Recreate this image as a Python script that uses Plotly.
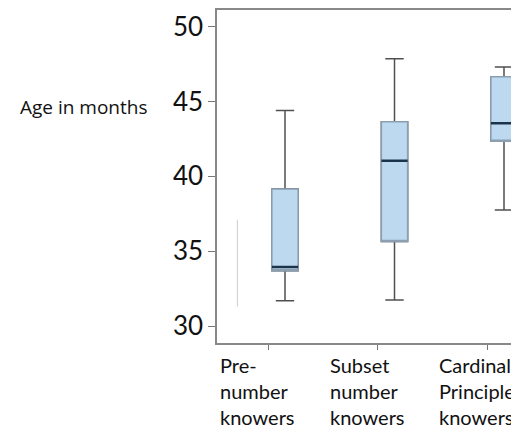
import plotly.graph_objects as go

categories = ["Pre-<br>number<br>knowers", "Subset<br>number<br>knowers", "Cardinal<br>Principle<br>knowers"]
lower_whisker = [31.7, 31.75, 37.75]
q1 = [33.7, 35.65, 42.35]
median = [33.95, 41.05, 43.55]
q3 = [39.15, 43.65, 46.65]
upper_whisker = [44.4, 47.85, 47.3]
y_ticks = [30, 35, 40, 45, 50]
# faint residual line in first group
ghost_low = [31.3]
ghost_high = [37.1]

BOX_OFFSET = 0.155
GHOST_OFFSET = -0.28
BOX_W = 0.24
FONT = "Lato"

idx = list(range(len(categories)))
bx = [i + BOX_OFFSET for i in idx]

fig = go.Figure()
# whiskers
fig.add_trace(go.Box(
    x=bx, q1=q1, median=median, q3=q3,
    lowerfence=lower_whisker, upperfence=upper_whisker,
    width=BOX_W, whiskerwidth=0.7,
    line=dict(color="#505050", width=1.5),
    fillcolor="#bdd9f0", boxpoints=False, hoverinfo="skip", showlegend=False,
))
# box body
fig.add_trace(go.Box(
    x=bx, q1=q1, median=q1, q3=q3,
    lowerfence=q1, upperfence=q3,
    width=BOX_W, whiskerwidth=0,
    line=dict(color="#8c9fb1", width=1.5),
    fillcolor="#bdd9f0", boxpoints=False, hoverinfo="skip", showlegend=False,
))
# median line
fig.add_trace(go.Box(
    x=bx, q1=median, median=median, q3=median,
    lowerfence=median, upperfence=median,
    width=BOX_W, whiskerwidth=0,
    line=dict(color="#1c344a", width=2.5),
    fillcolor="rgba(0,0,0,0)", boxpoints=False, hoverinfo="skip", showlegend=False,
))
# faint ghost line
for i in range(len(ghost_low)):
    fig.add_trace(go.Scatter(
        x=[idx[i] + GHOST_OFFSET] * 2, y=[ghost_low[i], ghost_high[i]],
        mode="lines", line=dict(color="#cccccc", width=1),
        hoverinfo="skip", showlegend=False,
    ))

annotations = []
for i, lab in enumerate(categories):
    annotations.append(dict(
        x=idx[i], y=0, xref="x", yref="paper", text=lab, showarrow=False,
        xanchor="left", yanchor="top", align="left", xshift=-50, yshift=-8,
        font=dict(family=FONT, size=20, color="#111111"),
    ))
annotations.append(dict(
    x=0, y=45, xref="paper", yref="y", text="Age in months", showarrow=False,
    xanchor="right", yanchor="middle", xshift=-68, yshift=-6,
    font=dict(family="Open Sans", size=19, color="#111111"),
))

fig.update_layout(
    width=511, height=421,
    margin=dict(l=209, r=0, t=2, b=86),
    paper_bgcolor="white", plot_bgcolor="white",
    boxmode="overlay",
    annotations=annotations,
    xaxis=dict(
        range=[-0.466, 2.292], tickvals=idx, ticktext=[""] * len(idx),
        ticks="outside", ticklen=5, tickcolor="#777777",
        showline=True, linecolor="#888888", linewidth=1.5, mirror=True,
        showgrid=False, zeroline=False,
    ),
    yaxis=dict(
        range=[28.87, 51.11], tickvals=y_ticks,
        ticks="outside", ticklen=7, tickcolor="#777777",
        showline=True, linecolor="#888888", linewidth=1.5,
        showgrid=False, zeroline=False,
        tickfont=dict(family=FONT, size=26, color="#111111"),
    ),
)
fig.write_html("out.html")
